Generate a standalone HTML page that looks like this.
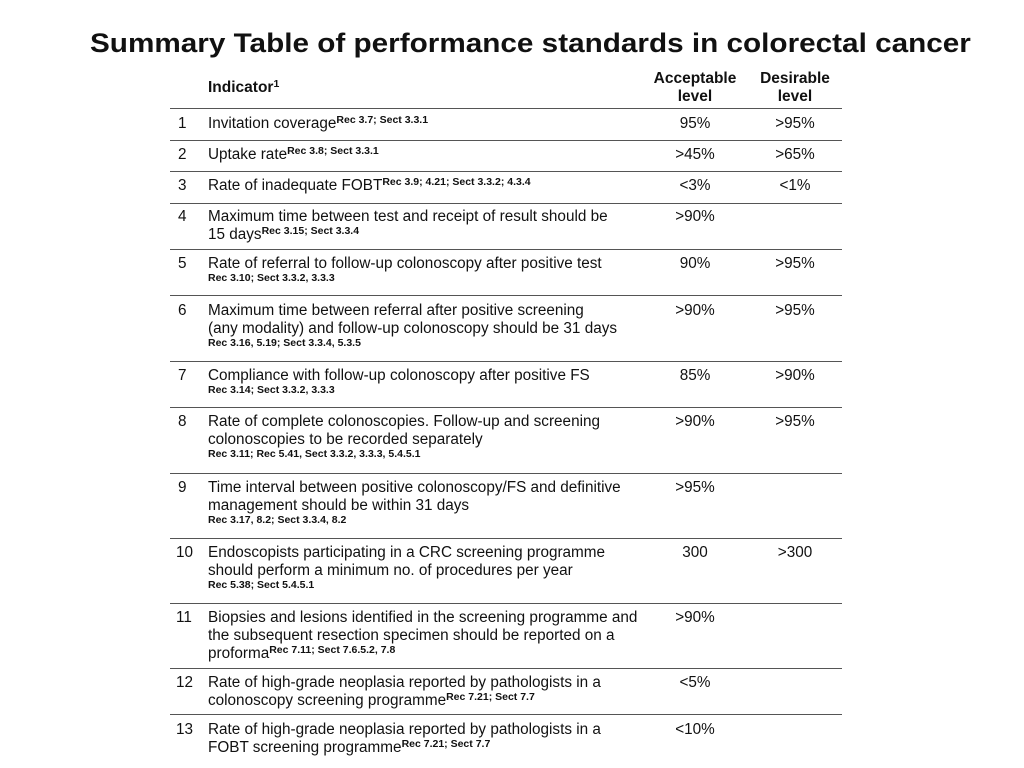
<!DOCTYPE html>
<html><head><meta charset="utf-8"><style>
html,body{margin:0;padding:0;background:#fff;}
body{width:1024px;height:768px;position:relative;overflow:hidden;font-family:"Liberation Sans",sans-serif;color:#111;}
.title{position:absolute;left:90px;top:28px;font-size:27px;font-weight:bold;white-space:nowrap;transform:scaleX(1.1);transform-origin:left;}
.hline{position:absolute;left:170px;width:672px;height:0;border-top:1.5px solid #555;}
.row{position:absolute;left:170px;width:672px;font-size:15.3px;line-height:18px;white-space:nowrap;}
.num{position:absolute;left:8px;top:0;}
.txt{position:absolute;left:38px;top:0;}
.acc{position:absolute;left:485px;width:80px;text-align:center;top:0;}
.des{position:absolute;left:585px;width:80px;text-align:center;top:0;}
sup{font-size:10.5px;font-weight:bold;vertical-align:5px;line-height:0;}
.ref{display:block;font-size:10.5px;font-weight:bold;line-height:11px;}
.hdr{position:absolute;font-size:15.5px;font-weight:bold;line-height:18px;text-align:center;}
</style></head><body>
<div class="title">Summary Table of performance standards in colorectal cancer</div>
<div class="hdr" style="left:208px;top:79px;text-align:left">Indicator<sup>1</sup></div>
<div class="hdr" style="left:645px;top:70px;width:100px">Acceptable<br>level</div>
<div class="hdr" style="left:745px;top:70px;width:100px">Desirable<br>level</div>

<div class="hline" style="top:108px"></div>
<div class="hline" style="top:140px"></div>
<div class="hline" style="top:171px"></div>
<div class="hline" style="top:203px"></div>
<div class="hline" style="top:249px"></div>
<div class="hline" style="top:295px"></div>
<div class="hline" style="top:361px"></div>
<div class="hline" style="top:407px"></div>
<div class="hline" style="top:473px"></div>
<div class="hline" style="top:538px"></div>
<div class="hline" style="top:603px"></div>
<div class="hline" style="top:668px"></div>
<div class="hline" style="top:714px"></div>

<div class="row" style="top:115px"><span class="num">1</span><span class="txt">Invitation coverage<sup>Rec 3.7; Sect 3.3.1</sup></span><span class="acc">95%</span><span class="des">&gt;95%</span></div>
<div class="row" style="top:146px"><span class="num">2</span><span class="txt">Uptake rate<sup>Rec 3.8; Sect 3.3.1</sup></span><span class="acc">&gt;45%</span><span class="des">&gt;65%</span></div>
<div class="row" style="top:177px"><span class="num">3</span><span class="txt">Rate of inadequate FOBT<sup>Rec 3.9; 4.21; Sect 3.3.2; 4.3.4</sup></span><span class="acc">&lt;3%</span><span class="des">&lt;1%</span></div>
<div class="row" style="top:208px"><span class="num">4</span><span class="txt">Maximum time between test and receipt of result should be<br>15 days<sup>Rec 3.15; Sect 3.3.4</sup></span><span class="acc">&gt;90%</span></div>
<div class="row" style="top:255px"><span class="num">5</span><span class="txt">Rate of referral to follow-up colonoscopy after positive test<span class="ref">Rec 3.10; Sect 3.3.2, 3.3.3</span></span><span class="acc">90%</span><span class="des">&gt;95%</span></div>
<div class="row" style="top:302px"><span class="num">6</span><span class="txt">Maximum time between referral after positive screening<br>(any modality) and follow-up colonoscopy should be 31 days<span class="ref">Rec 3.16, 5.19; Sect 3.3.4, 5.3.5</span></span><span class="acc">&gt;90%</span><span class="des">&gt;95%</span></div>
<div class="row" style="top:367px"><span class="num">7</span><span class="txt">Compliance with follow-up colonoscopy after positive FS<span class="ref">Rec 3.14; Sect 3.3.2, 3.3.3</span></span><span class="acc">85%</span><span class="des">&gt;90%</span></div>
<div class="row" style="top:413px"><span class="num">8</span><span class="txt">Rate of complete colonoscopies. Follow-up and screening<br>colonoscopies to be recorded separately<span class="ref">Rec 3.11; Rec 5.41, Sect 3.3.2, 3.3.3, 5.4.5.1</span></span><span class="acc">&gt;90%</span><span class="des">&gt;95%</span></div>
<div class="row" style="top:479px"><span class="num">9</span><span class="txt">Time interval between positive colonoscopy/FS and definitive<br>management should be within 31 days<span class="ref">Rec 3.17, 8.2; Sect 3.3.4, 8.2</span></span><span class="acc">&gt;95%</span></div>
<div class="row" style="top:544px"><span class="num" style="left:6px">10</span><span class="txt">Endoscopists participating in a CRC screening programme<br>should perform a minimum no. of procedures per year<span class="ref">Rec 5.38; Sect 5.4.5.1</span></span><span class="acc">300</span><span class="des">&gt;300</span></div>
<div class="row" style="top:609px"><span class="num" style="left:6px">11</span><span class="txt">Biopsies and lesions identified in the screening programme and<br>the subsequent resection specimen should be reported on a<br>proforma<sup>Rec 7.11; Sect 7.6.5.2, 7.8</sup></span><span class="acc">&gt;90%</span></div>
<div class="row" style="top:674px"><span class="num" style="left:6px">12</span><span class="txt">Rate of high-grade neoplasia reported by pathologists in a<br>colonoscopy screening programme<sup>Rec 7.21; Sect 7.7</sup></span><span class="acc">&lt;5%</span></div>
<div class="row" style="top:721px"><span class="num" style="left:6px">13</span><span class="txt">Rate of high-grade neoplasia reported by pathologists in a<br>FOBT screening programme<sup>Rec 7.21; Sect 7.7</sup></span><span class="acc">&lt;10%</span></div>
</body></html>
